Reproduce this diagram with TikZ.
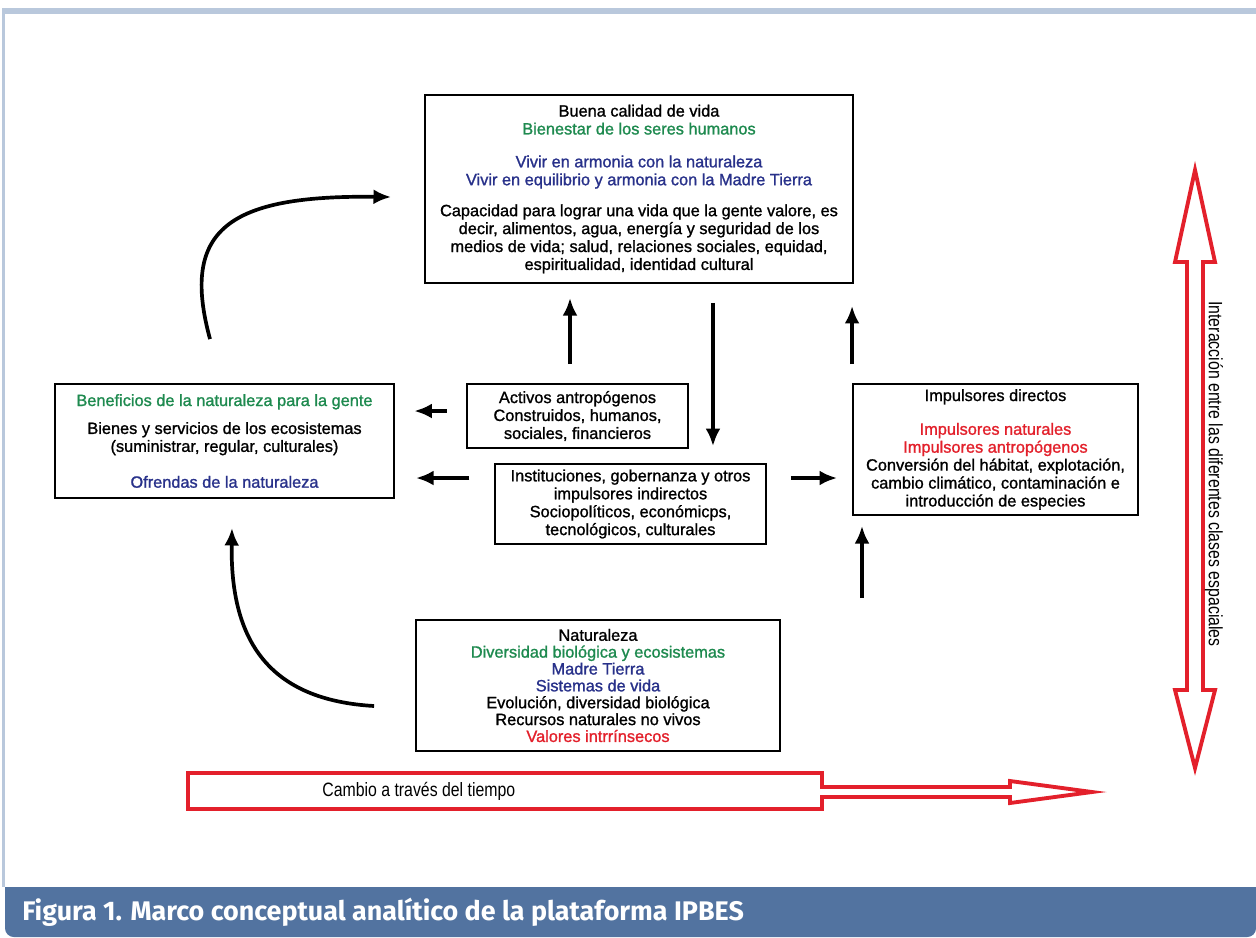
\documentclass[tikz,border=0pt]{standalone}
\usepackage{fontspec}
\setmainfont[FakeBold=1.2]{Liberation Sans}
\newfontfamily\narrowfont[FakeStretch=0.82]{Liberation Sans}
\newfontfamily\capfont{Fira Sans}
\usetikzlibrary{positioning, calc, arrows.meta}

\begin{document}
\begin{tikzpicture}[
  x=0.02cm, y=-0.02cm,
  font=\fontsize{9.3}{10.2}\selectfont,
  >={Latex[length=10pt,width=8.5pt]},
  box/.style={draw=black, line width=1.1pt, align=center,
              inner sep=0pt, fill=white},
  flow/.style={black, line width=2.1pt, ->},
  hollow/.style={draw=cRed, line width=2.2pt, line join=miter},
]
\definecolor{cFrame}{HTML}{B9C8DC}
\definecolor{cBand}{HTML}{5273A0}
\definecolor{cGreen}{HTML}{1E8A4F}
\definecolor{cBlue}{HTML}{28318A}
\definecolor{cRed}{HTML}{E3202B}

\useasboundingbox (0,0) rectangle (1256,937);

% ============================================================================
% page frame and caption band
% ============================================================================
\fill[cFrame] (2,8) rectangle (1256,14);
\fill[cFrame] (2,8) rectangle (5,887);
\fill[cBand] (1256,887) -- (5,887) [rounded corners=5pt] -- (5,937)
  -- (1256,937) [sharp corners] -- cycle;
\node[anchor=west, text=white, inner sep=0pt,
      font=\capfont\bfseries\fontsize{15.3}{17}\selectfont] (caption)
      at (22,912) {Figura 1. Marco conceptual analítico de la plataforma IPBES};

% ============================================================================
% boxes
% ============================================================================
\node[box, minimum width=85.6mm, minimum height=37.6mm] (calidad) at (639,189)
  {Buena calidad de vida\\
   \textcolor{cGreen}{Bienestar de los seres humanos}\\[8.5pt]
   \textcolor{cBlue}{Vivir en armonia con la naturaleza}\\
   \textcolor{cBlue}{Vivir en equilibrio y armonia con la Madre Tierra}\\[7.4pt]
   Capacidad para lograr una vida que la gente valore, es\\
   decir, alimentos, agua, energía y seguridad de los\\
   medios de vida; salud, relaciones sociales, equidad,\\
   espiritualidad, identidad cultural};

\node[box, minimum width=67.8mm, minimum height=22.8mm] (benef) at (224.5,441)
  {\textcolor{cGreen}{Beneficios de la naturaleza para la gente}\\[5.7pt]
   Bienes y servicios de los ecosistemas\\
   (suministrar, regular, culturales)\\[10.2pt]
   \textcolor{cBlue}{Ofrendas de la naturaleza}};

\node[box, minimum width=44.2mm, minimum height=12.8mm] (activos) at (577.5,416)
  {Activos antropógenos\\ Construidos, humanos,\\ sociales, financieros};

\node[box, minimum width=54.2mm, minimum height=16mm] (instit) at (630.5,504)
  {Instituciones, gobernanza y otros\\ impulsores indirectos\\
   Sociopolíticos, económicps,\\ tecnológicos, culturales};

\node[box, minimum width=57mm, minimum height=26.2mm] (impuls) at (995.5,449.5)
  {Impulsores directos\\[9pt]
   \textcolor{cRed}{Impulsores naturales}\\
   \textcolor{cRed}{Impulsores antropógenos}\\
   Conversión del hábitat, explotación,\\
   cambio climático, contaminación e\\
   introducción de especies};

\node[box, minimum width=72.8mm, minimum height=26.2mm,
      font=\fontsize{9.3}{9.6}\selectfont] (natur) at (598,685.5)
  {Naturaleza\\
   \textcolor{cGreen}{Diversidad biológica y ecosistemas}\\
   \textcolor{cBlue}{Madre Tierra}\\
   \textcolor{cBlue}{Sistemas de vida}\\
   Evolución, diversidad biológica\\
   Recursos naturales no vivos\\
   \textcolor{cRed}{Valores intrrínsecos}};

% ============================================================================
% straight arrows
% ============================================================================
\draw[flow, shorten <=11pt, shorten >=11pt]
  ([yshift=0.1cm]activos.west) -- ([yshift=0.1cm]activos.west -| benef.east);
\draw[flow, shorten <=14pt, shorten >=12pt]
  ([yshift=0.52cm]instit.west) -- ([yshift=0.52cm]instit.west -| benef.east);
\draw[flow, shorten <=13.6pt, shorten >=8.5pt]
  ([yshift=0.52cm]instit.east) -- ([yshift=0.52cm]instit.east -| impuls.west);

\draw[flow, shorten <=10.8pt, shorten >=8pt]
  ([xshift=-0.15cm]activos.north) -- ([xshift=-0.15cm]activos.north |- calidad.south);
\draw[flow, shorten <=10.8pt, shorten >=9.6pt]
  ([xshift=1.48cm]calidad.south) -- ([xshift=1.48cm]calidad.south |- instit.north);
\draw[flow, shorten <=10.8pt, shorten >=12.5pt]
  (impuls.north west) -- (impuls.north west |- calidad.south);

\coordinate (drv) at (862,598);
\draw[flow, shorten >=5.7pt] (drv) -- (drv |- impuls.south);

% ============================================================================
% curved arrows
% ============================================================================
\draw[flow]
  ([xshift=-0.29cm, yshift=0.88cm]benef.north)
  .. controls +(-30,-110) and +(-162,-2) ..
  ([xshift=-0.66cm, yshift=-0.16cm]calidad.west);
\draw[flow]
  ([xshift=-0.82cm, yshift=-0.41cm]natur.west)
  .. controls +(-105,-6) and +(-2,113) ..
  ([xshift=0.15cm, yshift=-0.58cm]benef.south);

% ============================================================================
% red hollow arrows
% ============================================================================
\draw[hollow] (188,773) -- (822,773) -- (822,787) -- (1010,787) -- (1010,781)
  -- (1092,792) -- (1010,803) -- (1010,797) -- (822,797) -- (822,809)
  -- (188,809) -- cycle;
\node[anchor=west, inner sep=0pt, font=\narrowfont\fontsize{11}{12}\selectfont]
  (tiempo) at (322,791) {Cambio a través del tiempo};

\draw[hollow] (1195,170) -- (1215,262) -- (1203,262) -- (1203,690) -- (1215,690)
  -- (1195,768) -- (1175,690) -- (1187,690) -- (1187,262) -- (1175,262) -- cycle;
\node[rotate=-90, inner sep=0pt, font=\narrowfont\fontsize{11}{12}\selectfont]
  (espacio) at (1214,474) {Interacción entre las diferentes clases espaciales};

\end{tikzpicture}
\end{document}
